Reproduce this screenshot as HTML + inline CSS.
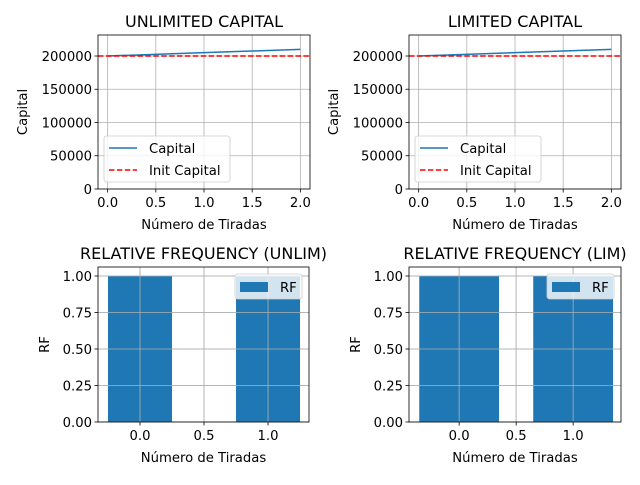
<!DOCTYPE html>
<html><head><meta charset="utf-8"><style>
body{margin:0;background:#fff}
svg{font-family:"DejaVu Sans","Liberation Sans",sans-serif}
</style></head><body>
<svg id="c" width="640" height="480" xmlns="http://www.w3.org/2000/svg"></svg>
<script>
const capX = [0, 1, 2];
const capUnlim = [200000, 205000, 210000];
const capLim = [200000, 205000, 210000];
const initCapital = 200000;
const rfCats = [0, 1];
const rfUnlim = [1.0, 1.0];
const rfLim = [1.0, 1.0];
const capYTicks = [0, 50000, 100000, 150000, 200000];
const capXTicks = [0, 0.5, 1.0, 1.5, 2.0];
const rfYTicks = [0, 0.25, 0.5, 0.75, 1.0];
const rfXTicks = [0, 0.5, 1.0];

const svg = document.getElementById('c');
const NS = 'http://www.w3.org/2000/svg';
function mk(tag, attrs, parent) {
  const e = document.createElementNS(NS, tag);
  for (const k in attrs) e.setAttribute(k, attrs[k]);
  (parent || svg).appendChild(e);
  return e;
}
function txt(s, x, y, opts, parent) {
  const t = mk('text', Object.assign({x: x, y: y, 'font-size': 13.2, fill: '#000'}, opts), parent);
  t.textContent = s;
  return t;
}

function panel(cfg) {
  const g = mk('g', {});
  
  
  const {l, r, t, b, x0, x1, y0, y1} = cfg;
  const sx = v => l + (v - x0) / (x1 - x0) * (r - l);
  const sy = v => b - (v - y0) / (y1 - y0) * (b - t);
  cfg.xt.forEach(v => {
    const gl = mk('line', {x1: sx(v), x2: sx(v), y1: t, y2: b, stroke: '#b0b0b0', 'stroke-width': 0.8}, g);
    
    
  });
  cfg.yt.forEach(v => {
    const gl = mk('line', {x1: l, x2: r, y1: sy(v), y2: sy(v), stroke: '#b0b0b0', 'stroke-width': 0.8}, g);
    
    
  });
  cfg.draw(g, sx, sy);
  if (cfg.gridOver) {
    cfg.xt.forEach(v => mk('line', {x1: sx(v), x2: sx(v), y1: t, y2: b, stroke: '#b0b0b0', 'stroke-width': 0.8}, g));
    cfg.yt.forEach(v => mk('line', {x1: l, x2: r, y1: sy(v), y2: sy(v), stroke: '#b0b0b0', 'stroke-width': 0.8}, g));
  }
  const fr = mk('rect', {x: l, y: t, width: r - l, height: b - t, fill: 'none', stroke: '#000', 'stroke-width': 0.8}, g);
  
  
  cfg.xt.forEach(v => {
    mk('line', {x1: sx(v), x2: sx(v), y1: b, y2: b + 3.5, stroke: '#000', 'stroke-width': 0.8}, g);
    const tl = txt(v.toFixed(1), sx(v), b + 18, {'text-anchor': 'middle'}, g);
    
    
  });
  cfg.yt.forEach(v => {
    mk('line', {x1: l - 3.5, x2: l, y1: sy(v), y2: sy(v), stroke: '#000', 'stroke-width': 0.8}, g);
    const tl = txt(cfg.yfmt(v), l - 6, sy(v) + 4.8, {'text-anchor': 'end'}, g);
    
    
  });
  const ti = txt(cfg.title, (l + r) / 2, t - 8, {'text-anchor': 'middle', 'font-size': 16}, g);
  
  
  const xl = txt('Número de Tiradas', (l + r) / 2, b + 40, {'text-anchor': 'middle'}, g);
  
  
  const yx = cfg.ylabX, yy = (t + b) / 2;
  const yl = txt(cfg.ylab, yx, yy, {'text-anchor': 'middle', transform: `rotate(-90 ${yx} ${yy})`}, g);
  
  
  cfg.legend(g);
}

function capPanel(name, title, l, r, vals) {
  panel({name, title, l, r, t: 35, b: 189, x0: -0.1, x1: 2.1, y0: 0, y1: 231579,
    xt: capXTicks, yt: capYTicks, yfmt: v => String(v), ylab: 'Capital', ylabX: l - 71,
    draw(g, sx, sy) {
      const ln = mk('polyline', {points: capX.map((x, i) => sx(x) + ',' + sy(vals[i])).join(' '), fill: 'none', stroke: '#1f77b4', 'stroke-width': 1.5}, g);
      
      
      const h = mk('line', {x1: l, x2: r, y1: sy(initCapital), y2: sy(initCapital), stroke: '#ff0000', 'stroke-width': 1.5, 'stroke-dasharray': '5.5,2.4'}, g);
      
      
    },
    legend(g) {
      const lg = mk('g', {}, g);
      
      
      mk('rect', {x: l + 6, y: 136, width: 126, height: 46, rx: 2.5, fill: '#fff', 'fill-opacity': 0.8, stroke: '#cccccc', 'stroke-width': 0.8}, lg);
      mk('line', {x1: l + 11, x2: l + 39, y1: 148, y2: 148, stroke: '#1f77b4', 'stroke-width': 1.5}, lg);
      txt('Capital', l + 51, 153, {}, lg);
      mk('line', {x1: l + 11, x2: l + 39, y1: 170, y2: 170, stroke: '#ff0000', 'stroke-width': 1.5, 'stroke-dasharray': '5.5,2.4'}, lg);
      txt('Init Capital', l + 51, 175, {}, lg);
    }
  });
}
capPanel('unlimited-capital-chart', 'UNLIMITED CAPITAL', 98, 310, capUnlim);
capPanel('limited-capital-chart', 'LIMITED CAPITAL', 409, 621, capLim);

function rfPanel(name, title, l, r, x0, x1, w, vals) {
  panel({name, title, l, r, t: 267, b: 422, x0, x1, y0: 0, y1: 1.0616, gridOver: true,
    xt: rfXTicks, yt: rfYTicks, yfmt: v => v.toFixed(2), ylab: 'RF', ylabX: l - 49,
    draw(g, sx, sy) {
      rfCats.forEach((c, i) => {
        const rc = mk('rect', {x: sx(c - w / 2), y: sy(vals[i]), width: sx(c + w / 2) - sx(c - w / 2), height: sy(0) - sy(vals[i]), fill: '#1f77b4'}, g);
        
        
      });
    },
    legend(g) {
      const lg = mk('g', {}, g);
      
      
      mk('rect', {x: r - 74, y: 274, width: 67, height: 25, rx: 2.5, fill: '#fff', 'fill-opacity': 0.8, stroke: '#cccccc', 'stroke-width': 0.8}, lg);
      mk('rect', {x: r - 69, y: 282, width: 28, height: 10, fill: '#1f77b4'}, lg);
      txt('RF', r - 29, 292, {}, lg);
    }
  });
}
rfPanel('rf-unlimited-chart', 'RELATIVE FREQUENCY (UNLIM)', 98, 309, -0.328, 1.32, 0.5, rfUnlim);
rfPanel('rf-limited-chart', 'RELATIVE FREQUENCY (LIM)', 409, 621, -0.44, 1.42, 0.7, rfLim);
</script>
</body></html>
